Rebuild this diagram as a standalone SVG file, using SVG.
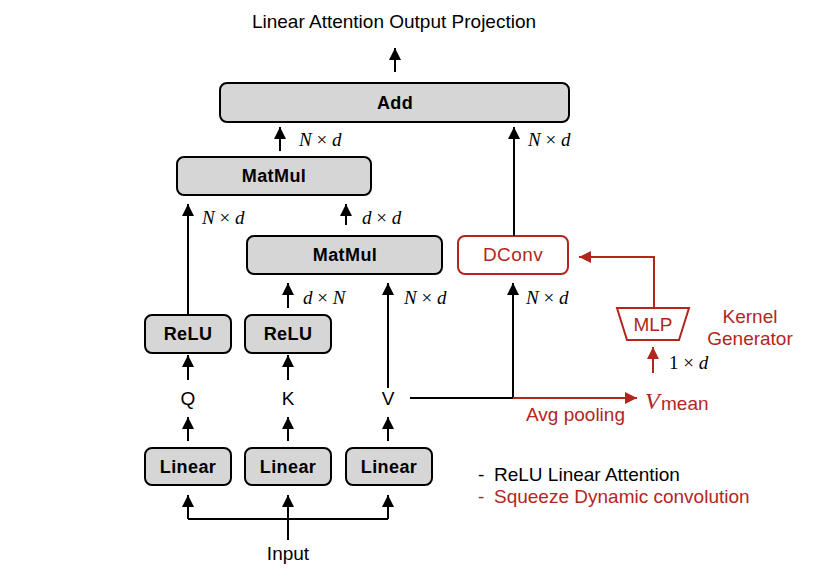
<svg xmlns="http://www.w3.org/2000/svg" width="840" height="580" viewBox="0 0 840 580">
<style>
.box{fill:#d6d6d6;stroke:#000;stroke-width:2}
.rbox{fill:#fff;stroke:#b3261e;stroke-width:2}
.lbl{font-family:"Liberation Sans",Arial,sans-serif;font-size:18px;font-weight:bold;letter-spacing:0.4px;text-anchor:middle;fill:#000}
.txt{font-family:"Liberation Sans",Arial,sans-serif;font-size:19px;fill:#000}
.red{fill:#b3261e}
.m{font-family:"Liberation Serif","Times New Roman",serif;font-size:19px;fill:#000}
.i{font-style:italic}
.k{fill:none;stroke:#000;stroke-width:2}
.r{fill:none;stroke:#b3261e;stroke-width:2}
</style>
<defs>
<marker id="ak" markerUnits="userSpaceOnUse" markerWidth="12" markerHeight="12" viewBox="0 0 12 12" refX="12" refY="6" orient="auto"><path d="M0,0 L12,6 L0,12 z" fill="#000"/></marker>
<marker id="ar" markerUnits="userSpaceOnUse" markerWidth="12" markerHeight="12" viewBox="0 0 12 12" refX="12" refY="6" orient="auto"><path d="M0,0 L12,6 L0,12 z" fill="#b3261e"/></marker>
</defs>
<text class="txt" x="394" y="28" text-anchor="middle">Linear Attention Output Projection</text>
<g id="add"><rect class="box" x="220" y="83" width="349" height="39" rx="7"/><text class="lbl" x="395" y="109">Add</text></g>
<g id="matmul1"><rect class="box" x="177" y="157" width="194" height="38" rx="7"/><text class="lbl" x="274" y="182">MatMul</text></g>
<g id="matmul2"><rect class="box" x="247" y="236" width="195" height="38" rx="7"/><text class="lbl" x="345" y="261">MatMul</text></g>
<g id="dconv"><rect class="rbox" x="458" y="236" width="110" height="38" rx="7"/><text class="lbl" x="513" y="261" style="fill:#b3261e;font-weight:normal;font-size:19px">DConv</text></g>
<g id="mlp"><path class="r" d="M617,308 L689,308 L679,340 L627,340 Z"/><text class="txt red" x="653" y="331" text-anchor="middle">MLP</text></g>
<g id="kernelgen"><text class="txt red" x="750" y="323" text-anchor="middle">Kernel</text><text class="txt red" x="750" y="345" text-anchor="middle">Generator</text></g>
<g id="relu1"><rect class="box" x="145" y="315" width="86" height="38" rx="7"/><text class="lbl" x="188" y="340">ReLU</text></g>
<g id="relu2"><rect class="box" x="245" y="315" width="86" height="38" rx="7"/><text class="lbl" x="288" y="340">ReLU</text></g>
<g id="q"><text class="txt" x="188" y="405" text-anchor="middle">Q</text></g>
<g id="k"><text class="txt" x="288" y="405" text-anchor="middle">K</text></g>
<g id="v"><text class="txt" x="388" y="405" text-anchor="middle">V</text></g>
<g id="linear1"><rect class="box" x="145" y="448" width="86" height="37" rx="7"/><text class="lbl" x="188" y="473">Linear</text></g>
<g id="linear2"><rect class="box" x="245" y="448" width="86" height="37" rx="7"/><text class="lbl" x="288" y="473">Linear</text></g>
<g id="linear3"><rect class="box" x="346" y="448" width="86" height="37" rx="7"/><text class="lbl" x="389" y="473">Linear</text></g>
<g id="input"><text class="txt" x="288" y="560" text-anchor="middle">Input</text></g>
<g id="vmean"><text x="645" y="409" style="font-family:'Liberation Serif',serif;font-style:italic;font-size:24px;fill:#b3261e">V</text><text class="txt red" x="661" y="410">mean</text></g>
<g id="legend"><text class="txt" x="478" y="481">-</text><text class="txt" x="494" y="481">ReLU Linear Attention</text><text class="txt red" x="478" y="503">-</text><text class="txt red" x="494" y="503">Squeeze Dynamic convolution</text></g>
<g id="connectors">
<path class="k" d="M395,72 L395,48" marker-end="url(#ak)"/>
<path class="k" d="M280,151 L280,127" marker-end="url(#ak)"/>
<path class="k" d="M514,236 L514,127" marker-end="url(#ak)"/>
<path class="k" d="M346,225 L346,204" marker-end="url(#ak)"/>
<path class="k" d="M188,315 L188,204" marker-end="url(#ak)"/>
<path class="k" d="M288,308 L288,283" marker-end="url(#ak)"/>
<path class="k" d="M388,388 L388,283" marker-end="url(#ak)"/>
<path class="k" d="M410,398 L513,398 L513,283" marker-end="url(#ak)"/>
<path class="r" d="M513,398 L637,398" marker-end="url(#ar)"/>
<path class="r" d="M654,308 L654,257 L579,257" marker-end="url(#ar)"/>
<path class="r" d="M653,373 L653,347" marker-end="url(#ar)"/>
<path class="k" d="M188,380 L188,355" marker-end="url(#ak)"/>
<path class="k" d="M288,380 L288,355" marker-end="url(#ak)"/>
<path class="k" d="M188,441 L188,417" marker-end="url(#ak)"/>
<path class="k" d="M288,441 L288,417" marker-end="url(#ak)"/>
<path class="k" d="M388,441 L388,417" marker-end="url(#ak)"/>
<path class="k" d="M288,540 L288,495"/>
<path class="k" d="M188,519 L388,519"/>
<path class="k" d="M188,519 L188,495" marker-end="url(#ak)"/>
<path class="k" d="M288,519 L288,495" marker-end="url(#ak)"/>
<path class="k" d="M388,519 L388,495" marker-end="url(#ak)"/>
</g>
<g id="dims">
<text class="m" x="299" y="146"><tspan class="i">N</tspan> × <tspan class="i">d</tspan></text>
<text class="m" x="528" y="146"><tspan class="i">N</tspan> × <tspan class="i">d</tspan></text>
<text class="m" x="202" y="224"><tspan class="i">N</tspan> × <tspan class="i">d</tspan></text>
<text class="m" x="362" y="224"><tspan class="i">d</tspan> × <tspan class="i">d</tspan></text>
<text class="m" x="303" y="304"><tspan class="i">d</tspan> × <tspan class="i">N</tspan></text>
<text class="m" x="404" y="304"><tspan class="i">N</tspan> × <tspan class="i">d</tspan></text>
<text class="m" x="526" y="304"><tspan class="i">N</tspan> × <tspan class="i">d</tspan></text>
<text class="m red" x="669" y="369">1 × <tspan class="i">d</tspan></text>
<text class="txt red" x="526" y="421">Avg pooling</text>
</g>
</svg>
